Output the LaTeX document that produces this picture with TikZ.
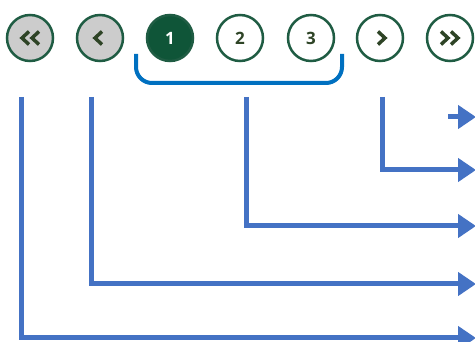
\documentclass[tikz,border=0pt]{standalone}
\usepackage{fontspec}
\setmainfont{Open Sans}
\usetikzlibrary{arrows.meta}
\definecolor{pgreen}{HTML}{1F5C43}
\definecolor{pfill}{HTML}{0F5538}
\definecolor{pgray}{HTML}{CCCCCC}
\definecolor{ptext}{HTML}{2E4426}
\definecolor{bracketblue}{HTML}{0070C0}
\definecolor{arrowblue}{HTML}{4472C4}
\tikzset{
  pagebtn/.style={circle, draw=pgreen, line width=2.5pt, minimum size=46pt, inner sep=0pt,
    font=\bfseries\fontsize{17}{17}\selectfont, text=ptext},
  chev/.style={draw=ptext, line width=3.5pt, line cap=butt, line join=miter},
  conn/.style={draw=arrowblue, line width=5pt, -{Triangle[length=18pt,width=23pt]}},
}
\begin{document}
\begin{tikzpicture}[x=1pt,y=-1pt]
\useasboundingbox (0,0) rectangle (475,342);
\node[pagebtn, fill=pgray] (first) at (30,38) {};
\node[pagebtn, fill=pgray] (prev) at (100,38) {};
\node[pagebtn, fill=pfill, text=white] (p1) at (170,38) {1};
\node[pagebtn, fill=white] (p2) at (240,38) {2};
\node[pagebtn, fill=white] (p3) at (311,38) {3};
\node[pagebtn, fill=white] (next) at (380,38) {};
\node[pagebtn, fill=white] (last) at (450,38) {};
% chevrons
\draw[chev] ([shift={(-1,-6.5)}]first.center) -- ++(-7,6.5) -- ++(7,6.5);
\draw[chev] ([shift={(9,-6.5)}]first.center) -- ++(-7,6.5) -- ++(7,6.5);
\draw[chev] ([shift={(2,-6.5)}]prev.center) -- ++(-7,6.5) -- ++(7,6.5);
\draw[chev] ([shift={(-2,-6.5)}]next.center) -- ++(7,6.5) -- ++(-7,6.5);
\draw[chev] ([shift={(-9,-6.5)}]last.center) -- ++(7,6.5) -- ++(-7,6.5);
\draw[chev] ([shift={(1,-6.5)}]last.center) -- ++(7,6.5) -- ++(-7,6.5);
% bracket
\draw[bracketblue, line width=4pt, rounded corners=16pt] (136,54) -- (136,83) -- (342,83) -- (342,54);
% connectors
\coordinate (s1) at (21,97);  \coordinate (e1) at (476,338);
\coordinate (s2) at (91,97);  \coordinate (e2) at (476,284);
\coordinate (s3) at (246,97); \coordinate (e3) at (476,226);
\coordinate (s4) at (382,97); \coordinate (e4) at (476,170);
\coordinate (s5) at (448,117); \coordinate (e5) at (476,117);
\draw[conn] (s1) |- (e1);
\draw[conn] (s2) |- (e2);
\draw[conn] (s3) |- (e3);
\draw[conn] (s4) |- (e4);
\draw[conn] (s5) -- (e5);
\end{tikzpicture}
\end{document}
